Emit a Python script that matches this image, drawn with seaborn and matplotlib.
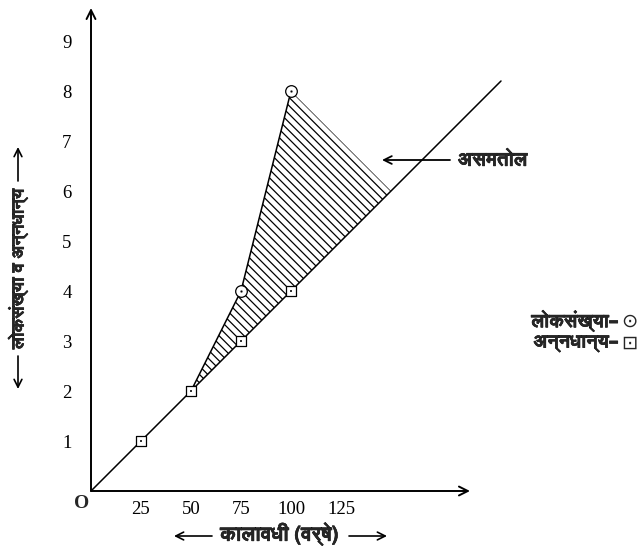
import numpy as np
import matplotlib
matplotlib.use('Agg')
import matplotlib.pyplot as plt
from matplotlib import font_manager
import matplotlib.patheffects as pe
import seaborn as sns

# data
years = [0, 25, 50, 75, 100]
food = [0, 1, 2, 3, 4]
pop_years = [50, 75, 100]
population = [2, 4, 8]
food_marker_years = [25, 50, 75, 100]
food_marker_vals = [1, 2, 3, 4]
pop_marker_years = [75, 100]
pop_marker_vals = [4, 8]
trend_years = [0, 205]
trend_vals = [0, 8.2]
# shaded gap: population curve back down to the food line
gap_years = [50, 75, 100, 150, 50]
gap_vals = [2, 4, 8, 6, 2]
x_ticks = [25, 50, 75, 100, 125]
y_ticks = [1, 2, 3, 4, 5, 6, 7, 8, 9]

x_label = 'कालावधी (वर्षे)'
y_label = 'लोकसंख्या व अन्नधान्य'
gap_label = 'असमतोल'
legend_pop = 'लोकसंख्या–'
legend_food = 'अन्नधान्य–'
legend_syms = ['\u2299', '\u22a1']


def find_devanagari_font():
    # look for installed fonts that have Devanagari glyphs
    try:
        from fontTools.ttLib import TTFont
    except ImportError:
        return None
    found = []
    seen = set()
    for f in font_manager.fontManager.ttflist:
        if f.fname in seen:
            continue
        seen.add(f.fname)
        try:
            tt = TTFont(f.fname, fontNumber=0, lazy=True)
            cmap = tt.getBestCmap() or {}
            if 0x0915 in cmap and 0x094D in cmap:
                found.append(f.name)
        except Exception:
            pass
    if not found:
        return None
    sans = [n for n in found if 'Sans' in n]
    return (sans or found)[0]


sns.set_style('white')
deva = find_devanagari_font()
deva_family = ([deva] if deva else []) + ['DejaVu Sans']
plt.rcParams['font.family'] = ['Liberation Serif', 'DejaVu Serif']
plt.rcParams['hatch.linewidth'] = 0.9
bold_fx = [pe.withStroke(linewidth=0.4, foreground='black')]

fig = plt.figure(figsize=(6.44, 5.49), dpi=100)
ax = fig.add_axes([91 / 644, 58 / 549, 411 / 644, 483 / 549])
ax.set_xlim(0, 205.5)
ax.set_ylim(0, 9.66)
for s in ax.spines.values():
    s.set_visible(False)

arrow_kw = dict(arrowstyle='->', lw=1.4, color='black', shrinkA=0, shrinkB=0,
                mutation_scale=16)
# axes with arrow heads
ax.annotate('', xy=(189.5, 0), xytext=(0, 0), annotation_clip=False,
            arrowprops=arrow_kw)
ax.annotate('', xy=(0, 9.66), xytext=(0, 0), annotation_clip=False,
            arrowprops=arrow_kw)

# hatched imbalance region
ax.fill(gap_years, gap_vals, facecolor='none', edgecolor='black',
        hatch='\\\\\\\\', linewidth=0)

# food trend line and population line
sns.lineplot(x=trend_years, y=trend_vals, ax=ax, color='black', lw=1.1)
sns.lineplot(x=pop_years, y=population, ax=ax, color='black', lw=1.1)

# markers
sns.scatterplot(x=food_marker_years, y=food_marker_vals, ax=ax, marker='s',
                s=45, facecolor='white', edgecolor='black', linewidth=0.9,
                zorder=5)
sns.scatterplot(x=food_marker_years, y=food_marker_vals, ax=ax, marker='s',
                s=4, color='black', zorder=6)
sns.scatterplot(x=pop_marker_years, y=pop_marker_vals, ax=ax, marker='o',
                s=70, facecolor='white', edgecolor='black', linewidth=0.9,
                zorder=5)
sns.scatterplot(x=pop_marker_years, y=pop_marker_vals, ax=ax, marker='o',
                s=3, color='black', zorder=6)

ax.set_xticks(x_ticks)
ax.set_yticks(y_ticks)
ax.set_xticklabels([str(t) for t in x_ticks])
ax.set_yticklabels([str(t) for t in y_ticks])
ax.tick_params(axis='both', direction='inout', length=10, width=1.2,
               labelsize=13.5, colors='black')
ax.tick_params(axis='x', pad=2)
ax.tick_params(axis='y', pad=9)

ax.text(-4.5, -0.24, 'O', fontsize=14, fontweight='bold', ha='center',
        va='center', family=['Liberation Serif'])

# imbalance label with arrow
ax.annotate('', xy=(145.5, 6.62), xytext=(179.5, 6.62),
            arrowprops=dict(arrow_kw, lw=1.3, mutation_scale=14))
ax.text(183.5, 6.62, gap_label, fontsize=14, fontweight='bold',
        ha='left', va='center', family=deva_family, path_effects=bold_fx)

# legend text on the right
for ypix, txt, sym in [(321, legend_pop, legend_syms[0]),
                       (343, legend_food, legend_syms[1])]:
    fig.text(619 / 644, 1 - ypix / 549, txt, fontsize=13.5, fontweight='bold',
             ha='right', va='center', family=deva_family, path_effects=bold_fx)
    fig.text(629 / 644, 1 - ypix / 549, sym, fontsize=14,
             ha='center', va='center', family=['DejaVu Sans'])

# axis titles with long arrows
fig.text(280 / 644, 1 - 534 / 549, x_label, fontsize=14.5, fontweight='bold',
         ha='center', va='center', family=deva_family, path_effects=bold_fx)
fig.text(18 / 644, 1 - 268 / 549, y_label, fontsize=12.5, fontweight='bold',
         ha='center', va='center', rotation=90, family=deva_family,
         path_effects=bold_fx)

lab_arrow = dict(arrowstyle='->', lw=1.2, color='black', shrinkA=0,
                 shrinkB=0, mutation_scale=14)
H = 549
for head, tail in [((174, H - 536), (212, H - 536)),
                   ((387, H - 536), (349, H - 536)),
                   ((18, H - 147), (18, H - 181)),
                   ((18, H - 389), (18, H - 356))]:
    fig.add_artist(matplotlib.patches.FancyArrowPatch(
        posA=(tail[0] / 644, tail[1] / H), posB=(head[0] / 644, head[1] / H),
        transform=fig.transFigure, **lab_arrow))

ax.set_xlabel('')
ax.set_ylabel('')
fig.savefig('out.png', dpi=100)
